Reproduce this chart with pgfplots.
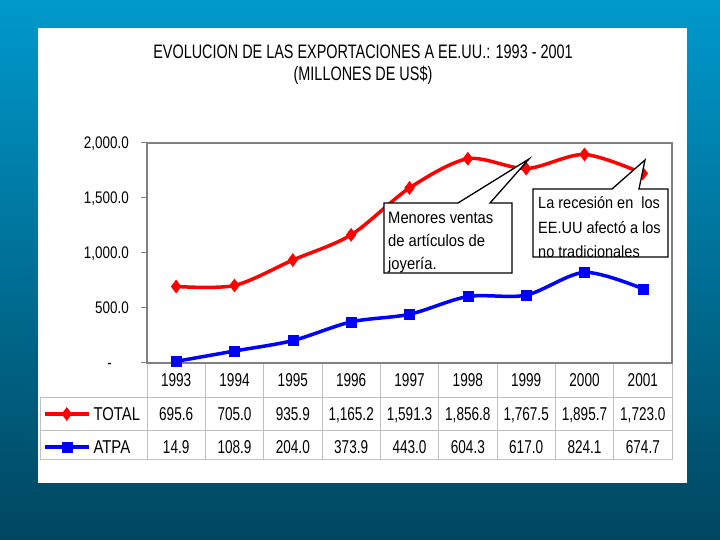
\documentclass[border=0pt]{standalone}
\usepackage{fontspec}
\setmainfont{Liberation Sans}
\newfontfamily\titlefont{Liberation Sans}[FakeStretch=0.74]
\newfontfamily\numfont{Liberation Sans}[FakeStretch=0.73]
\newfontfamily\tickfont{Liberation Sans}[FakeStretch=0.8]
\newfontfamily\legfont{Liberation Sans}[FakeStretch=0.8]
\newfontfamily\callfont{Liberation Sans}[FakeStretch=0.89]
\usepackage{pgfplots}
\usepackage{pgfplotstable}
\pgfplotsset{compat=1.18}
\definecolor{bgtop}{RGB}{0,153,204}
\definecolor{bgbot}{RGB}{0,70,95}
\definecolor{gridgray}{RGB}{192,192,192}
\pgfplotstableread{
x total atpa
0 695.6 14.9
1 705.0 108.9
2 935.9 204.0
3 1165.2 373.9
4 1591.3 443.0
5 1856.8 604.3
6 1767.5 617.0
7 1895.7 824.1
8 1723.0 674.7
}\datatable
\begin{document}
\begin{tikzpicture}[x=1bp,y=1bp]
\useasboundingbox (0,0) rectangle (720,540);
\shade[top color=bgtop, bottom color=bgbot] (0,0) rectangle (720,540);
\fill[white] (38,57) rectangle (687,512);
\node[font=\titlefont\fontsize{19.5bp}{23bp}\selectfont] at (363,488) {EVOLUCION DE LAS EXPORTACIONES A EE.UU.: 1993 - 2001};
\node[font=\titlefont\fontsize{19.5bp}{23bp}\selectfont] at (363,465) {(MILLONES DE US\$)};
% table grid
\foreach \k in {0,...,9} {
  \draw[gridgray, line width=1bp] ({147+58.333*\k},177) -- ({147+58.333*\k},80);
}
\draw[gridgray, line width=1bp] (40,142) -- (672,142);
\draw[gridgray, line width=1bp] (40,109) -- (672,109);
\draw[gridgray, line width=1bp] (40,80) -- (672,80);
\draw[gridgray, line width=1bp] (40,142) -- (40,80);
\begin{axis}[
  at={(147bp,177bp)}, anchor=south west,
  scale only axis, width=525bp, height=220bp,
  xmin=-0.5, xmax=8.5, ymin=0, ymax=2000,
  xtick=\empty,
  ytick={0,500,1000,1500,2000},
  yticklabels={{-\hspace*{17bp}},{500.0},{1,000.0},{1,500.0},{2,000.0}},
  ytick pos=left, tick align=outside, major tick length=6bp,
  ytick style={gray, line width=1bp},
  yticklabel style={anchor=east, inner sep=0pt, xshift=-12bp, text height=12bp, text depth=0pt, font=\tickfont\fontsize{16.8bp}{18bp}\selectfont},
  axis line style={gray, line width=1.2bp},
  clip=false,
  legend style={at={(axis description cs:-0.198,-0.2016)}, anchor=north west, draw=none, fill=none, inner sep=0pt, outer sep=0pt, row sep=19.7bp, column sep=3bp, nodes={inner sep=0pt, text height=13.3bp, text depth=0pt}, font=\legfont\fontsize{18.6bp}{20bp}\selectfont},
  legend cell align=left,
  legend image code/.code={\draw[#1, mark repeat=2, mark phase=2] plot coordinates {(0bp,0bp)(22bp,0bp)(44bp,0bp)};},
]
\addplot[red, line width=3.5bp, smooth, tension=0.5, mark=diamond*, mark size=6.5bp, mark options={solid, line width=0.5bp, fill=red}] table[x=x, y=total] {\datatable};
\addlegendentry{TOTAL}
\addplot[blue, line width=3.5bp, smooth, tension=0.5, mark=square*, mark size=5bp, mark options={solid, line width=0.5bp, fill=blue}] table[x=x, y=atpa] {\datatable};
\addlegendentry{ATPA}
\end{axis}
% table text
\foreach \y [count=\i from 0] in {1993,1994,1995,1996,1997,1998,1999,2000,2001} {
  \node[font=\numfont\fontsize{18.6bp}{20bp}\selectfont, inner sep=0pt, text height=13.3bp, text depth=0pt, anchor=center] at ({176.17+58.333*\i},160) {\y};
}
\foreach \v [count=\i from 0] in {695.6,705.0,935.9,{1,165.2},{1,591.3},{1,856.8},{1,767.5},{1,895.7},{1,723.0}} {
  \node[font=\numfont\fontsize{18.6bp}{20bp}\selectfont, inner sep=0pt, text height=13.3bp, text depth=0pt, anchor=center] at ({176.17+58.333*\i},126) {\v};
}
\foreach \v [count=\i from 0] in {14.9,108.9,204.0,373.9,443.0,604.3,617.0,824.1,674.7} {
  \node[font=\numfont\fontsize{18.6bp}{20bp}\selectfont, inner sep=0pt, text height=13.3bp, text depth=0pt, anchor=center] at ({176.17+58.333*\i},93) {\v};
}
% callout 1
\filldraw[fill=white, draw=black, line width=1.3bp] (384,337) -- (458,337) -- (529,381) -- (490,337) -- (512,337) -- (512,267) -- (384,267) -- cycle;
\begin{scope}
\clip (384,267) rectangle (512,337);
\node[font=\callfont\fontsize{16.6bp}{23.5bp}\selectfont, anchor=base west, inner sep=0pt] at (388,316.7) {Menores ventas};
\node[font=\callfont\fontsize{16.6bp}{23.5bp}\selectfont, anchor=base west, inner sep=0pt] at (388,293.3) {de artículos de};
\node[font=\callfont\fontsize{16.6bp}{23.5bp}\selectfont, anchor=base west, inner sep=0pt] at (388,270) {joyería.};
\end{scope}
% callout 2
\filldraw[fill=white, draw=black, line width=1.3bp] (533,351) -- (612,351) -- (645,380) -- (639,351) -- (668,351) -- (668,283) -- (533,283) -- cycle;
\begin{scope}
\clip (533,283) rectangle (668,351);
\node[font=\callfont\fontsize{16.3bp}{23.5bp}\selectfont, anchor=base west, inner sep=0pt] at (538,331.7) {La recesión en \ los};
\node[font=\callfont\fontsize{16.3bp}{23.5bp}\selectfont, anchor=base west, inner sep=0pt] at (538,306) {EE.UU afectó a los};
\node[font=\callfont\fontsize{16.3bp}{23.5bp}\selectfont, anchor=base west, inner sep=0pt] at (538,282.7) {no tradicionales};
\end{scope}
\end{tikzpicture}
\end{document}
